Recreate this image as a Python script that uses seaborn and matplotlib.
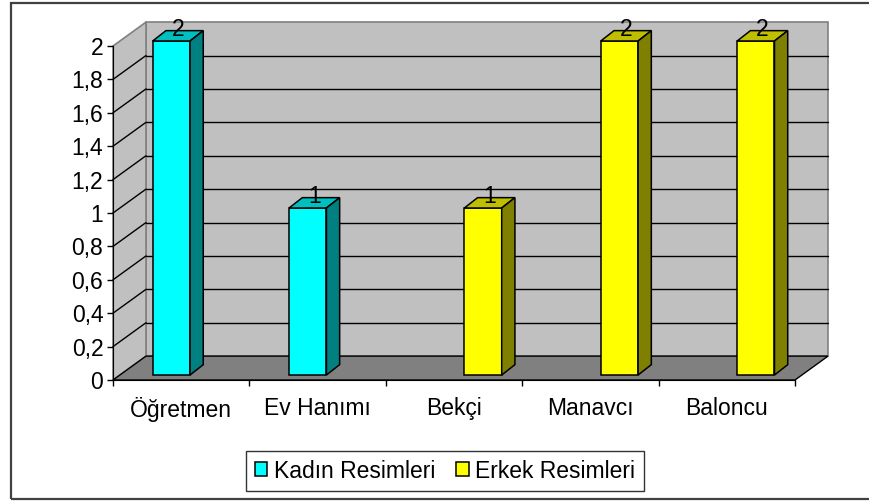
import numpy as np
import pandas as pd
import matplotlib
matplotlib.use("Agg")
import matplotlib.pyplot as plt
import matplotlib.transforms as mtransforms
from matplotlib.patches import Polygon, Rectangle
import seaborn as sns

# data
categories = ["Öğretmen", "Ev Hanımı", "Bekçi", "Manavcı", "Baloncu"]
series = ["Kadın Resimleri", "Erkek Resimleri"]
kadin = [2, 1, None, None, None]
erkek = [None, None, 1, 2, 2]
yticks = [0, 0.2, 0.4, 0.6, 0.8, 1, 1.2, 1.4, 1.6, 1.8, 2]

sns.set_style("white")
plt.rcParams["font.family"] = ["Liberation Sans", "DejaVu Sans"]
plt.rcParams["text.color"] = "black"
plt.rcParams["xtick.color"] = "black"
plt.rcParams["ytick.color"] = "black"

rows = []
for cat, k, e in zip(categories, kadin, erkek):
    rows.append({"Meslek": cat, "Grup": series[0], "Sayı": k})
    rows.append({"Meslek": cat, "Grup": series[1], "Sayı": e})
df = pd.DataFrame(rows).dropna()

W, H = 870, 501
fig = plt.figure(figsize=(W / 100, H / 100), dpi=100)
ax = fig.add_axes([113 / W, (H - 380) / H, 682 / W, 334 / H])
ax.set_facecolor("none")

sns.barplot(data=df, x="Meslek", y="Sayı", hue="Grup", order=categories,
            hue_order=series, palette=["#00FFFF", "#FFFF00"], saturation=1,
            dodge=True, width=0.57, gap=0.04, edgecolor="black", linewidth=1.1,
            ax=ax, zorder=3)
bars = list(ax.patches)

ax.set_xlim(-0.5, len(categories) - 0.5)
ax.set_ylim(0, 2)

# 3d box: walls and floor (depth in data units)
DX, DY = 0.242, 0.143
x0, x1 = -0.5, len(categories) - 0.5
floor = Polygon([(x0, 0), (x1, 0), (x1 + DX, DY), (x0 + DX, DY)], closed=True,
                facecolor="#808080", edgecolor="black", lw=1, zorder=0, clip_on=False)
back = Rectangle((x0 + DX, DY), x1 - x0, 2, facecolor="#C0C0C0",
                 edgecolor="#808080", lw=1.2, zorder=0, clip_on=False)
side = Polygon([(x0, 0), (x0, 2), (x0 + DX, 2 + DY), (x0 + DX, DY)], closed=True,
               facecolor="#C0C0C0", edgecolor="#808080", lw=1.2, zorder=0, clip_on=False)
for p in (back, side, floor):
    ax.add_patch(p)
for v in yticks[1:-1]:
    ax.plot([x0 + DX, x1 + DX], [v + DY, v + DY], color="black", lw=1, zorder=1, clip_on=False)
    ax.plot([x0, x0 + DX], [v, v + DY], color="black", lw=1, zorder=1, clip_on=False)

# bars sit a little back inside the box
off = mtransforms.offset_copy(ax.transData, fig=fig, x=9.6, y=5, units="dots")
ddx, ddy = 0.097, 0.062
for b in bars:
    if b.get_height() == 0 or np.isnan(b.get_height()):
        continue
    b.set_transform(off)
    b.set_clip_on(False)
    xl, w, h = b.get_x(), b.get_width(), b.get_height()
    fc = np.array(b.get_facecolor()[:3])
    top = Polygon([(xl, h), (xl + ddx, h + ddy), (xl + w + ddx, h + ddy), (xl + w, h)],
                  closed=True, facecolor=fc * 0.75, edgecolor="black", lw=1.1,
                  transform=off, zorder=3, clip_on=False)
    rside = Polygon([(xl + w, 0), (xl + w, h), (xl + w + ddx, h + ddy), (xl + w + ddx, ddy)],
                    closed=True, facecolor=fc * 0.5, edgecolor="black", lw=1.1,
                    transform=off, zorder=3, clip_on=False)
    ax.add_patch(top)
    ax.add_patch(rside)
    ax.text(xl + w / 2 + ddx / 2, h, f"{h:g}", transform=off, ha="center",
            va="bottom", fontsize=16.5, color="black", zorder=4)

# axes styling
for s in ("top", "right"):
    ax.spines[s].set_visible(False)
ax.spines["left"].set_color("black")
ax.spines["bottom"].set_color("black")
ax.spines["left"].set_zorder(2)
ax.spines["bottom"].set_zorder(2)
ax.set_yticks(yticks)
ax.set_yticklabels([f"{v:g}".replace(".", ",") for v in yticks])
ax.set_xticks(range(len(categories)))
ax.set_xticklabels(categories)
ax.set_xticks(np.arange(-0.5, len(categories)), minor=True)
ax.tick_params(axis="y", direction="out", length=4, width=1, color="black",
               labelsize=16.5, labelcolor="black", pad=3, left=True)
ax.tick_params(axis="x", which="major", length=0, labelsize=16.5,
               labelcolor="black", pad=12)
ax.tick_params(axis="x", which="minor", direction="out", length=4, width=1,
               color="black", bottom=True)
ax.set_xlabel("")
ax.set_ylabel("")

handles, labels = ax.get_legend_handles_labels()
leg = ax.legend(handles, labels, loc="center", bbox_to_anchor=(445 / W, 1 - 471 / H),
                bbox_transform=fig.transFigure, ncol=2, frameon=True, fancybox=False,
                edgecolor="black", fontsize=16.5, handlelength=0.55, handleheight=0.55,
                handletextpad=0.3, columnspacing=0.9, borderpad=0.35, borderaxespad=0)
leg.get_frame().set_linewidth(1)
for hnd in leg.legend_handles:
    hnd.set_edgecolor("black")
for t in leg.get_texts():
    t.set_color("black")

# outer chart frame
fig.add_artist(Rectangle((11 / W, 1 - 499 / H), 1, (499 - 3) / H, transform=fig.transFigure,
                         fill=False, edgecolor="#404040", lw=1.6))

fig.savefig("out.png", dpi=100)
